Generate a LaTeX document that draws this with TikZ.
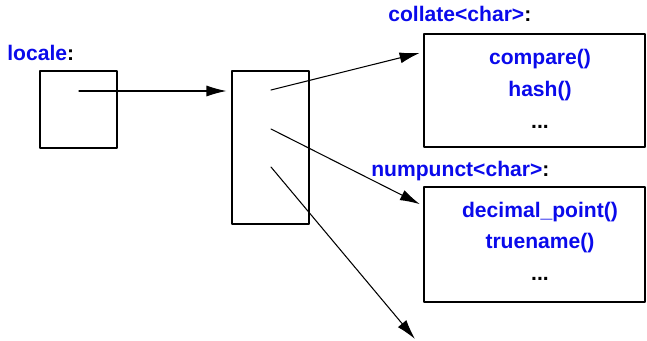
\documentclass[tikz,border=0pt]{standalone}
\usepackage{fontspec}
\setmainfont{Liberation Sans}
\usetikzlibrary{arrows.meta}
\definecolor{fnblue}{RGB}{10,10,235}
\begin{document}
\begin{tikzpicture}[x=0.02cm,y=-0.02cm,line cap=round,line join=round,
  facet/.style={draw,line width=0.6pt,inner sep=0pt},
  ptr/.style={line width=0.6pt,-{Latex[length=0.4cm,width=0.22cm]}},
  label/.style={anchor=base west,inner sep=0pt,font=\bfseries\fontsize{12}{14}\selectfont},
  member/.style={anchor=base,inner sep=0pt,font=\bfseries\fontsize{12}{14}\selectfont,text=fnblue}]
  \useasboundingbox (0,0) rectangle (647,341);
  % boxes
  \node[facet,minimum width=1.54cm,minimum height=1.54cm] (localebox) at (78.5,109.5) {};
  \node[facet,minimum width=1.54cm,minimum height=3.06cm] (facets) at (270.5,147.5) {};
  \node[facet,minimum width=4.42cm,minimum height=2.26cm] (collate) at (534.5,90.5) {};
  \node[facet,minimum width=4.42cm,minimum height=2.30cm] (numpunct) at (534.5,244.5) {};
  % labels
  \node[label] (localelbl) at (7,61) {\textcolor{fnblue}{locale}:};
  \node[label] (collatelbl) at (388,22) {\textcolor{fnblue}{collate<char>}:};
  \node[label] (numpunctlbl) at (371,177) {\textcolor{fnblue}{numpunct<char>}:};
  % members
  \node[member] (compare) at (540,65) {compare()};
  \node[member] (hash) at (540,97) {hash()};
  \node[member,text=black] (cdots) at (540,129) {...};
  \node[member] (decpoint) at (540,218) {decimal\_point()};
  \node[member] (truename) at (540,249) {truename()};
  \node[member,text=black] (ndots) at (540,281) {...};
  % pointers
  \coordinate (lp) at (79,91);
  \coordinate (f1) at (271,90);
  \coordinate (f2) at (271,129);
  \coordinate (f3) at (271,167);
  \coordinate (t1) at (collate.west |- 0,52);
  \coordinate (t2) at (numpunct.west |- 0,206);
  \coordinate (t3) at (415,339);
  \draw[ptr,shorten >=0.1cm] (lp) -- (lp -| facets.west);
  \draw[ptr,shorten >=0.08cm] (f1) -- (t1);
  \draw[ptr,shorten >=0.08cm] (f2) -- (t2);
  \draw[ptr] (f3) -- (t3);
\end{tikzpicture}
\end{document}
